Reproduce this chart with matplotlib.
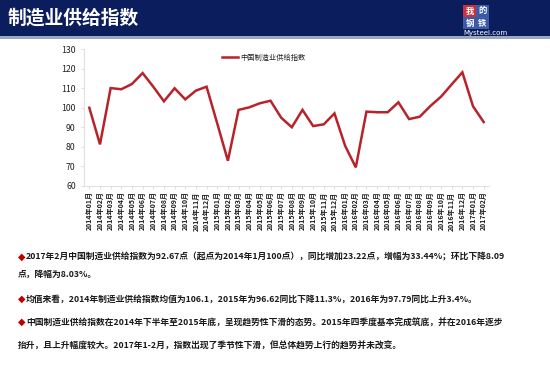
import matplotlib
matplotlib.use("Agg")
import matplotlib.pyplot as plt
from matplotlib.patches import Rectangle

plt.rcParams['font.family'] = ['Noto Sans CJK SC', 'DejaVu Sans']

title = "制造业供给指数"
series_name = "中国制造业供给指数"
months = [f"{y}年{m:02d}月" for y in (2014, 2015, 2016) for m in range(1, 13)] + ["2017年01月", "2017年02月"]
values = [100.0, 81.2, 110.1, 109.5, 112.2, 117.8, 110.8, 103.3, 110.0, 104.3, 108.8, 110.8,
          92.0, 72.8, 98.9, 100.2, 102.3, 103.6, 94.9, 90.0, 98.9, 90.6, 91.5, 97.1,
          80.5, 69.4, 98.0, 97.7, 97.7, 102.8, 94.2, 95.4, 100.9, 105.7, 112.0, 118.2,
          100.76, 92.67]
yticks = [60, 70, 80, 90, 100, 110, 120, 130]

paragraphs = [
    ["2017年2月中国制造业供给指数为92.67点（起点为2014年1月100点），同比增加23.22点，增幅为33.44%；环比下降8.09",
     "点，降幅为8.03%。"],
    ["均值来看，2014年制造业供给指数均值为106.1，2015年为96.62同比下降11.3%，2016年为97.79同比上升3.4%。"],
    ["中国制造业供给指数在2014年下半年至2015年底，呈现趋势性下滑的态势。2015年四季度基本完成筑底，并在2016年逐步",
     "抬升，且上升幅度较大。2017年1-2月，指数出现了季节性下滑，但总体趋势上行的趋势并未改变。"],
]

W, H = 550, 366
fig = plt.figure(figsize=(W / 100, H / 100), dpi=100)
fig.patch.set_facecolor("white")

# header bar
fig.patches.append(Rectangle((0, 1 - 36 / H), 1, 36 / H, transform=fig.transFigure,
                             facecolor="#0b1d5c", edgecolor="none", zorder=0))
fig.patches.append(Rectangle((0, 1 - 39 / H), 1, 3 / H, transform=fig.transFigure,
                             facecolor="#9aa8c4", edgecolor="none", zorder=0))
fig.text(8 / W, 1 - 18 / H, title, color="white", fontsize=13.5, fontweight="bold",
         va="center", ha="left")

# logo
fig.patches.append(Rectangle((463 / W, 1 - 17 / H), 13 / W, 12 / H, transform=fig.transFigure,
                             facecolor="#c8323c", edgecolor="none"))
fig.patches.append(Rectangle((476 / W, 1 - 17 / H), 13 / W, 12 / H, transform=fig.transFigure,
                             facecolor="#3c5aa8", edgecolor="none"))
fig.patches.append(Rectangle((463 / W, 1 - 29 / H), 13 / W, 12 / H, transform=fig.transFigure,
                             facecolor="#3c5aa8", edgecolor="none"))
fig.patches.append(Rectangle((476 / W, 1 - 29 / H), 13 / W, 12 / H, transform=fig.transFigure,
                             facecolor="#3c5aa8", edgecolor="none"))
for (x, y, t) in [(469.5, 11, "我"), (482.5, 11, "的"), (469.5, 23, "钢"), (482.5, 23, "铁")]:
    fig.text(x / W, 1 - y / H, t, color="white", fontsize=6, ha="center", va="center", fontweight="bold")
fig.text(485 / W, 1 - 32.5 / H, "Mysteel.com", color="white", fontsize=5, ha="center", va="center",
         family=["DejaVu Sans"])

# chart
ax = fig.add_axes([84 / W, 1 - 185.7 / H, (489 - 84) / W, (185.7 - 49.3) / H])
x = list(range(len(values)))
ax.plot(x, values, color="#b8232b", linewidth=1.8, label=series_name, solid_joinstyle="miter")
ax.set_xlim(-0.5, len(values) - 0.5)
ax.set_ylim(60, 130)
ax.set_yticks(yticks)
ax.set_yticklabels([str(v) for v in yticks], fontsize=6.3, color="#222222")
ax.set_xticks(x)
ax.set_xticklabels(months, rotation=90, fontsize=5.1, color="#222222", fontweight="bold")
for s in ("top", "right"):
    ax.spines[s].set_visible(False)
for s in ("left", "bottom"):
    ax.spines[s].set_color("#e0e0e0")
    ax.spines[s].set_linewidth(0.8)
ax.tick_params(axis="both", length=2, color="#e0e0e0", pad=2)
ax.tick_params(axis="y", pad=4)
leg = ax.legend(loc="upper left", bbox_to_anchor=(0.33, 1.0), frameon=False, fontsize=5.2,
                handlelength=2.2, handletextpad=0.3, borderaxespad=0.2)
for t in leg.get_texts():
    t.set_color("#222222")

# text block
line_y = [257, 274, 299, 322, 346]
li = 0
for para in paragraphs:
    for j, line in enumerate(para):
        y = 1 - line_y[li] / H
        if j == 0:
            fig.text(18 / W, y, "◆", color="#c00000", fontsize=7, va="center", ha="left",
                     family=["DejaVu Sans"])
            fig.text(26 / W, y, line, color="#1a1a1a", fontsize=6.3, va="center", ha="left",
                     fontweight="bold")
        else:
            fig.text(18 / W, y, line, color="#1a1a1a", fontsize=6.3, va="center", ha="left",
                     fontweight="bold")
        li += 1

fig.savefig("out.png", dpi=100, facecolor="white")
